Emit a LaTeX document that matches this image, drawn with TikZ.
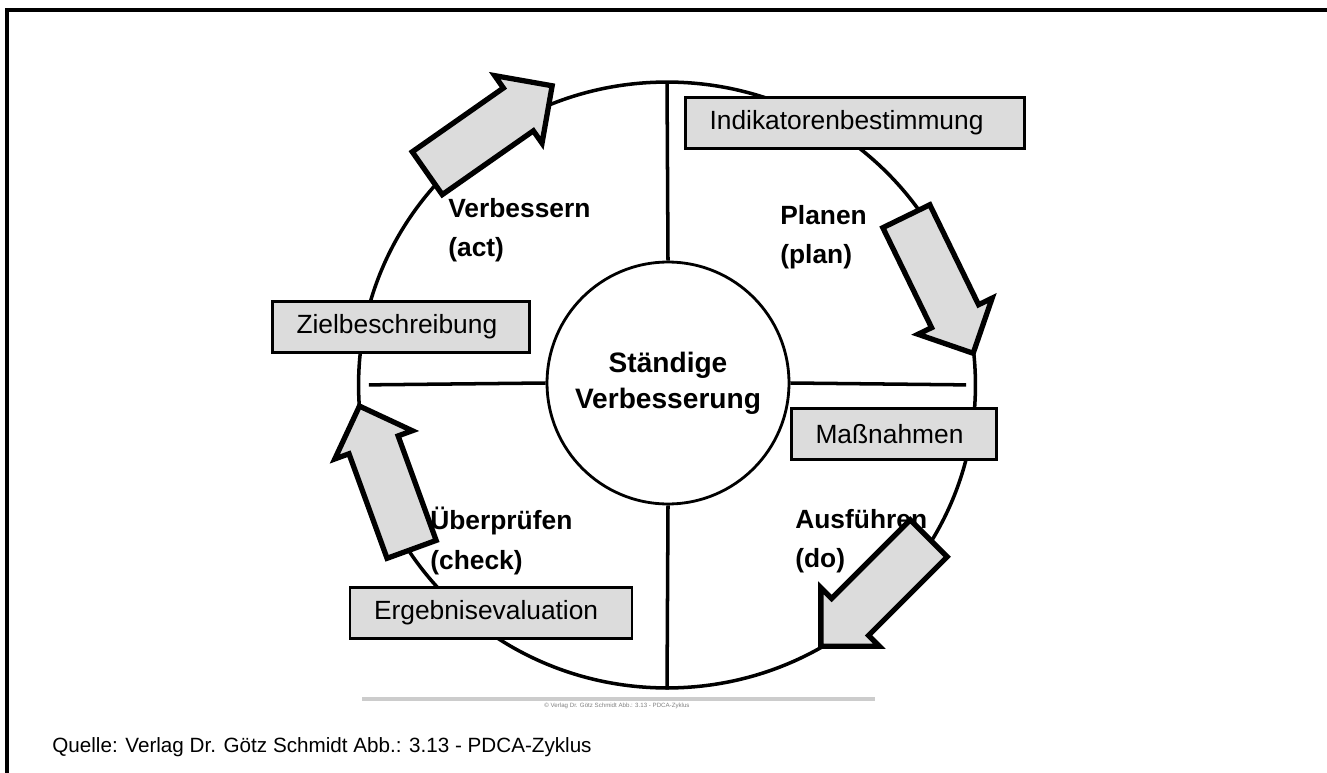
\documentclass[tikz,border=0pt]{standalone}
\usepackage{fontspec}
\setmainfont{Liberation Sans}
\usepackage{xcolor}
\usetikzlibrary{positioning,shapes.arrows,shapes.geometric}
\definecolor{boxgray}{RGB}{220,220,220}

\begin{document}
\begin{tikzpicture}[x=0.02cm, y=-0.02cm,
  phase/.style={font=\fontsize{15}{22.5}\selectfont\bfseries, align=left, inner sep=0pt, anchor=west},
  tag/.style={draw, fill=boxgray, line width=1.6pt, align=left, inner xsep=0.48cm, inner ysep=0pt,
              minimum height=1.02cm, font=\fontsize{15}{17}\selectfont},
  turn/.style={single arrow, draw, fill=boxgray, line width=3pt, inner sep=0.38cm,
               minimum height=3.05cm, minimum width=1.65cm},
  divider/.style={line width=2pt}]
  \useasboundingbox (0,0) rectangle (1327,773);
  \coordinate (frameR) at (1327,10);
  \coordinate (frameC) at (7,10);
  \coordinate (frameB) at (7,773);
  \draw[line width=1.8pt] (frameR) -- (frameC) -- (frameB);

  \node[draw, ellipse, line width=2pt, minimum width=12.34cm, minimum height=12.12cm] (cycle) at (667,385) {};
  \node[draw, circle, line width=1.6pt, minimum size=4.84cm, align=center,
        font=\fontsize{16}{20.4}\selectfont\bfseries] (core) at (668,383) {Ständige\\Verbesserung};
  \draw[divider, shorten <=2pt] (cycle.north) -- (core.north);
  \draw[divider] (core.south) -- (cycle.south);
  \draw[divider, shorten <=0.24cm] (cycle.west) -- (core.west);
  \draw[divider, shorten >=0.22cm] (core.east) -- (cycle.east);

  \node[phase] (act)   at (448,230) {Verbessern\\(act)};
  \node[phase] (plan)  at (780,237) {Planen\\(plan)};
  \node[phase] (check) at (430,541) {Überprüfen\\(check)};
  \node[phase] (do)    at (795,541) {Ausführen\\(do)};

  \node[tag, text width=5.82cm] (ind)  at (855,123) {Indikatorenbestimmung};
  \node[tag, text width=4.18cm] (ziel) at (401,327) {Zielbeschreibung};
  \node[tag, text width=3.14cm] (mass) at (894,434) {Maßnahmen};
  \node[tag, text width=4.68cm] (erg)  at (491,613) {Ergebnisevaluation};

  \node[turn, rotate=35]  (toplan)  at (479,137) {};
  \node[turn, rotate=-64] (todo)    at (934,273) {};
  \node[turn, rotate=225] (tocheck) at (884,583) {};
  \node[turn, rotate=110] (toact)   at (390,490) {};

  \coordinate (ruleL) at (362,699);
  \coordinate (ruleR) at (875,699);
  \draw[gray!40, line width=2.2pt] (ruleL) -- (ruleR);
  \node[text=gray, font=\fontsize{3.5}{4}\selectfont, inner sep=0pt] (tiny) at (617,706)
    {© Verlag Dr. Götz Schmidt Abb.: 3.13 - PDCA-Zyklus};

  \node[anchor=base west, inner sep=0pt, font=\fontsize{11.75}{14}\selectfont] (src) at (52,752)
    {Quelle: Verlag Dr. Götz Schmidt Abb.: 3.13 - PDCA-Zyklus};
\end{tikzpicture}
\end{document}
